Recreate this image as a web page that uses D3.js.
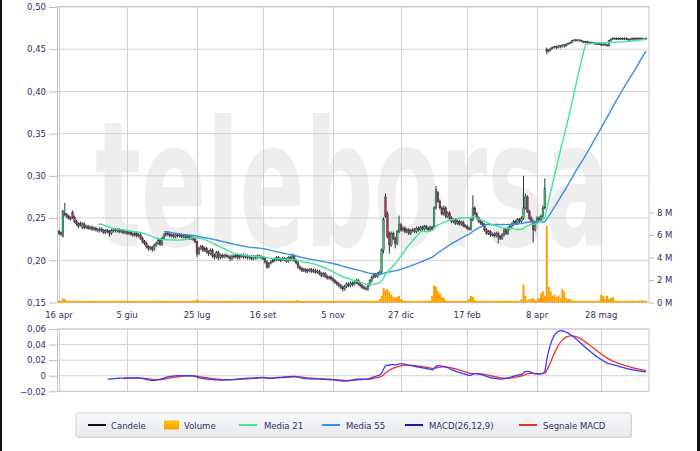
<!DOCTYPE html>
<html><head><meta charset="utf-8">
<script src="https://cdn.jsdelivr.net/npm/d3@7"></script>
<style>html,body{margin:0;padding:0;background:#fff;} svg{display:block;}</style>
</head><body><svg id="c" width="700" height="451"></svg>
<script>
// Daily prices in thousandths of euro (0.232 -> 232)
const openMil = [
234,233,228,256,254,252,250,257,251,246, 243,244,239,243,239,240,238,239,237,238,
236,235,237,235,233,235,234,232,235,236, 235,236,234,235,233,234,232,233,231,230,
232,229,230,226,222,220,216,214,215,213, 218,220,224,219,226,230,232,231,229,230,
228,230,229,230,228,229,227,228,226,227, 225,222,208,214,216,212,214,210,208,212,
206,204,209,203,206,204,206,205,204,202, 205,204,206,203,205,206,204,205,203,204,
202,204,203,205,204,203,202,198,192,196, 198,200,201,203,201,200,202,201,199,203,
201,205,200,197,192,190,188,189,187,188, 189,187,188,186,187,184,182,184,181,179,
180,178,176,174,172,170,168,166,169,172, 170,173,171,174,176,172,170,168,167,166,
171,176,180,183,181,184,186,212,275,255, 232,218,232,226,220,234,242,236,238,234,
236,232,235,236,234,238,236,239,237,240, 238,236,239,240,262,280,270,262,255,262,
252,256,250,246,248,244,246,243,245,241, 240,238,237,248,262,255,250,246,244,242,
236,232,234,230,231,229,232,228,226,230, 236,232,238,240,243,246,244,248,246,250,
262,275,258,250,246,236,245,250,248,252, 262,450,447,449,451,452,453,452,454,453,
455,454,456,457,458,460,461,460,461,460, 459,458,459,458,457,458,457,456,457,456,
455,456,455,454,460,462,463,462,463,462, 463,462,463,462,461,462,463,462,463,462,
463,462,462];
const highMil = [
236,234,260,268,256,254,252,259,253,248, 245,246,245,245,242,242,241,241,240,240,
238,239,239,237,237,237,236,237,238,238, 238,238,237,237,236,236,235,235,233,234,
234,232,232,228,224,222,218,217,217,220, 222,226,226,228,232,234,234,233,232,232,
232,232,232,232,231,231,230,230,229,229, 227,223,216,218,218,216,216,212,214,214,
208,211,211,208,208,208,208,207,206,207, 207,208,208,207,208,208,207,207,206,206,
206,206,207,207,206,205,204,200,198,200, 202,203,205,205,203,204,204,203,205,205,
208,207,202,199,194,192,191,191,190,191, 191,190,190,189,189,186,186,186,183,182,
182,180,178,176,174,172,170,171,174,174, 175,175,176,178,178,174,172,170,169,173,
178,182,185,185,186,188,214,251,279,258, 234,234,234,228,236,253,244,240,240,238,
238,237,238,238,240,240,241,241,242,242, 240,241,241,264,288,282,272,264,265,264,
258,258,252,250,250,248,248,247,247,243, 242,240,250,277,264,257,252,248,246,244,
238,236,236,233,233,234,234,230,232,238, 238,240,242,245,248,248,250,250,252,300,
279,277,260,252,248,247,252,252,254,265, 297,452,450,452,453,454,454,455,455,456,
456,457,458,459,461,462,462,462,462,461, 460,460,460,459,459,459,458,458,458,457,
457,457,456,461,463,464,464,464,464,464, 464,464,464,463,463,464,464,464,464,464,
464,463,464];
const lowMil = [
230,229,227,252,250,248,247,249,244,241, 238,240,237,237,237,236,236,235,235,234,
233,233,233,231,231,232,228,230,233,233, 233,232,232,231,231,230,230,229,228,228,
227,227,224,220,218,214,211,212,210,211, 216,218,217,217,224,228,229,227,227,226,
226,227,227,226,226,225,225,224,224,223, 220,204,206,212,210,210,208,205,206,203,
201,202,200,201,202,202,203,202,199,200, 202,202,201,201,203,202,202,201,201,200,
200,201,201,202,201,200,196,190,191,195, 197,198,199,199,198,199,199,197,197,199,
199,198,195,190,188,186,186,185,185,186, 185,185,184,184,182,180,180,179,177,177,
176,174,172,170,168,166,163,164,167,168, 168,169,170,172,170,168,166,165,164,164,
169,174,178,179,179,182,184,208,250,226, 208,216,224,214,218,232,234,234,232,232,
230,230,233,232,232,234,234,235,235,236, 234,234,235,238,260,268,260,253,253,250,
250,248,244,244,242,242,241,241,239,238, 236,235,235,246,253,248,244,242,240,234,
230,230,228,228,227,227,220,224,224,228, 230,230,236,238,241,242,242,244,244,248,
260,256,248,244,221,234,243,246,246,250, 260,444,446,448,450,451,450,451,451,452,
452,453,455,456,457,459,459,459,459,458, 457,457,457,456,456,456,455,455,455,454,
454,454,453,453,459,461,461,461,461,461, 461,461,461,460,460,461,461,461,461,461,
461,461,461];
const closeMil = [
232,231,258,254,252,250,249,251,246,243, 240,242,243,239,240,238,239,237,238,236,
235,237,235,233,235,234,232,235,236,235, 236,234,235,233,234,232,233,231,230,232,
229,230,226,222,220,216,214,215,213,218, 220,224,219,226,230,232,231,229,230,228,
230,229,230,228,229,227,228,226,227,225, 222,208,214,216,212,214,210,208,212,206,
204,209,203,206,204,206,205,204,202,205, 204,206,203,205,206,204,205,203,204,202,
204,203,205,204,203,202,198,192,196,198, 200,201,203,201,200,202,201,199,203,201,
205,200,197,192,190,188,189,187,188,189, 187,188,186,187,184,182,184,181,179,180,
178,176,174,172,170,168,166,169,172,170, 173,171,174,176,172,170,168,167,166,171,
176,180,183,181,184,186,212,248,252,228, 218,232,226,220,234,242,236,238,234,236,
232,235,236,234,238,236,239,237,240,238, 236,239,237,262,284,270,262,255,262,252,
256,250,246,248,244,246,243,245,241,240, 238,237,248,262,255,250,246,244,242,236,
232,234,230,231,229,232,228,226,230,236, 232,238,240,243,246,244,248,246,250,262,
275,258,250,246,236,245,250,248,252,262, 285,447,449,451,452,453,452,454,453,455,
454,456,457,458,460,461,460,461,460,459, 458,459,458,457,458,457,456,457,456,455,
456,455,454,460,462,463,462,463,462,463, 462,463,462,461,462,463,462,463,462,463,
462,462,463];
// Daily volume, millions of shares
const volumeM = [
.15,.15,.35,.30,.18,.15,.15,.15,.15,.15, .15,.15,.15,.15,.15,.15,.15,.15,.15,.15,
.15,.15,.15,.15,.15,.15,.15,.15,.15,.15, .15,.15,.15,.15,.15,.15,.15,.15,.15,.15,
.15,.15,.15,.15,.15,.15,.15,.15,.15,.15, .15,.15,.15,.15,.15,.15,.15,.15,.15,.15,
.15,.15,.15,.15,.15,.15,.15,.15,.15,.15, .18,.25,.18,.15,.15,.15,.15,.15,.15,.15,
.15,.15,.15,.15,.15,.15,.15,.15,.15,.15, .15,.15,.15,.15,.15,.15,.15,.15,.15,.15,
.15,.15,.15,.15,.15,.15,.15,.15,.15,.15, .15,.15,.15,.15,.15,.15,.15,.15,.15,.15,
.15,.15,.20,.18,.15,.15,.15,.15,.15,.15, .15,.15,.15,.15,.15,.15,.15,.15,.15,.15,
.15,.15,.15,.15,.15,.15,.15,.15,.15,.15, .15,.15,.15,.15,.15,.15,.15,.15,.15,.15,
.15,.15,.15,.18,.15,.30,.60,1.3,1.1,1.2, .90,.70,.50,.40,.50,.60,.30,.20,.15,.15,
.15,.15,.15,.15,.15,.15,.15,.15,.15,.15, .15,.15,.60,1.5,1.4,1.0,.80,.50,.40,.20,
.15,.15,.15,.15,.15,.15,.15,.15,.15,.15, .15,.30,.60,.50,.20,.15,.15,.15,.15,.15,
.15,.15,.15,.15,.15,.15,.15,.15,.15,.15, .15,.15,.15,.15,.15,.15,.15,.15,.30,1.6,
.60,.20,.30,.30,.40,.20,.20,.40,.80,1.0, .60,6.8,1.4,1.0,.60,.70,.50,.60,.40,1.2,
1.0,.40,.30,.30,.20,.15,.15,.15,.15,.15, .15,.15,.15,.15,.15,.15,.15,.15,.15,.70,
.60,.30,.60,.30,.40,.50,.20,.15,.15,.15, .15,.15,.15,.15,.15,.20,.15,.15,.15,.15,
.20,.15,.15];
const dateLabels = ["16 apr","5 giu","25 lug","16 set","5 nov","27 dic","17 feb","8 apr","28 mag"];
const dateTickIdx = [0,35,71,105,141,176,210,246,279];
const priceTicks = [0.15,0.20,0.25,0.30,0.35,0.40,0.45,0.50];
const volumeTicks = [0,2,4,6,8];
const macdTicks = [-0.02,0,0.02,0.04,0.06];
const legendItems = ["Candele","Volume","Media 21","Media 55","MACD(26,12,9)","Segnale MACD"];

const N = closeMil.length;
const data = d3.range(N).map(i => ({
  i, o: openMil[i]/1000, h: highMil[i]/1000, l: lowMil[i]/1000, c: closeMil[i]/1000, v: volumeM[i]
}));
const closes = data.map(d => d.c);

function sma(arr, n) {
  return arr.map((_, i) => i < n-1 ? null : d3.mean(arr.slice(i-n+1, i+1)));
}
function ema(arr, n, start) {
  const out = arr.map(() => null);
  const k = 2/(n+1);
  let prev = d3.mean(arr.slice(start, start+n));
  out[start+n-1] = prev;
  for (let i = start+n; i < arr.length; i++) { prev = arr[i]*k + prev*(1-k); out[i] = prev; }
  return out;
}
const ma21 = sma(closes, 21), ma55 = sma(closes, 55);
const e12 = ema(closes, 12, 0), e26 = ema(closes, 26, 0);
const macd = closes.map((_, i) => (e26[i] == null) ? null : e12[i] - e26[i]);
const macdStart = 25;
const sigRaw = ema(macd.slice(macdStart), 9, 0);
const signal = closes.map((_, i) => i < macdStart ? null : sigRaw[i - macdStart]);

const svg = d3.select("#c");
const defs = svg.append("defs");
const FONT = "DejaVu Sans, Verdana, sans-serif";
const TXT = "#2f2f66";
const GRID = "#d2d2d2";
const L = 58, R = 649;

const x = d3.scaleLinear().domain([0, 303.6]).range([59, 649]);
const y = d3.scaleLinear().domain([0.15, 0.50]).range([302.5, 7]);
const yv = d3.scaleLinear().domain([0, 8]).range([302.5, 212.5]);
const ym = d3.scaleLinear().domain([-0.02, 0.06]).range([391.3, 329]);
const fmt = v => d3.format(".2f")(v).replace(".", ",");

// black frame strips at edges
svg.append("rect").attr("x",0).attr("y",0).attr("width",2).attr("height",451).attr("fill","#111");
svg.append("rect").attr("x",697).attr("y",0).attr("width",3).attr("height",451).attr("fill","#111");

// watermark (compressed horizontally to span the plot)
const wm = svg.append("g");
const wt = wm.append("text").attr("x", 0).attr("y", 0)
  .attr("font-family","DejaVu Sans, sans-serif").attr("font-weight","bold")
  .attr("font-size", 175).attr("fill","#eeeeee")
  .text("teleborsa");
const wlen = wt.node().getComputedTextLength();
wm.attr("transform", `translate(95,246) scale(${515 / wlen},1)`);

// ---- main panel grid
const g = svg.append("g");
g.selectAll(".hg").data(priceTicks).join("line")
  .attr("x1", L).attr("x2", R).attr("y1", d => y(d)).attr("y2", d => y(d))
  .attr("stroke", GRID).attr("stroke-width", 1);
g.selectAll(".vg").data(dateTickIdx).join("line")
  .attr("x1", d => Math.round(x(d))+0.5).attr("x2", d => Math.round(x(d))+0.5)
  .attr("y1", 7).attr("y2", 302.5).attr("stroke", GRID);
g.append("rect").attr("x", L-0.5).attr("y", 6.5).attr("width", R-L+0.5).attr("height", 296)
  .attr("fill","none").attr("stroke","#c8c8c8");

// left axis
const ax = d3.axisLeft(y).tickValues(priceTicks).tickFormat(fmt).tickSize(8).tickPadding(3);
const axg = svg.append("g").attr("transform", `translate(${L-1},0)`).call(ax);
axg.select(".domain").remove();
axg.selectAll("line").attr("stroke","#bbb");
axg.selectAll("text").attr("font-family", FONT).attr("font-size", 8.5).attr("fill", TXT);

// right volume axis
const avx = d3.axisRight(yv).tickValues(volumeTicks).tickFormat(d => d + " M").tickSize(5).tickPadding(3);
const avg = svg.append("g").attr("transform", `translate(${R},0)`).call(avx);
avg.select(".domain").remove();
avg.selectAll("line").attr("stroke","#bbb");
avg.selectAll("text").attr("font-family", FONT).attr("font-size", 8.5).attr("fill", TXT);

// date labels
svg.append("g").selectAll("text").data(dateTickIdx).join("text")
  .attr("x", d => x(d)).attr("y", 318).attr("text-anchor","middle")
  .attr("font-family", FONT).attr("font-size", 8.5).attr("fill", TXT)
  .text((d, k) => dateLabels[k]);

// volume bars
svg.append("g").selectAll("rect").data(data).join("rect")
  .attr("x", d => x(d.i) - 1).attr("width", 2)
  .attr("y", d => yv(d.v)).attr("height", d => yv(0) - yv(d.v))
  .attr("fill", "#ffa000");

// candles
const cg = svg.append("g");
cg.selectAll("line").data(data).join("line")
  .attr("x1", d => x(d.i)).attr("x2", d => x(d.i))
  .attr("y1", d => y(d.h)).attr("y2", d => y(d.l))
  .attr("stroke", "#2b2f44").attr("stroke-width", 1);
cg.selectAll("rect").data(data).join("rect")
  .attr("x", d => x(d.i) - 0.9).attr("width", 1.8)
  .attr("y", d => y(Math.max(d.o, d.c)))
  .attr("height", d => Math.max(0.8, Math.abs(y(d.o) - y(d.c))))
  .attr("fill", d => d.c > d.o ? "#3cc06a" : (d.c < d.o ? "#a8344e" : "#2b2f44"))
  .attr("stroke", "#2b2f44").attr("stroke-width", 0.4);

// moving averages
const line = d3.line().defined(d => d[1] != null).x(d => x(d[0])).y(d => y(d[1]));
svg.append("path").datum(ma55.map((v, i) => [i, v])).attr("d", line)
  .attr("fill","none").attr("stroke","#3a8ee6").attr("stroke-width",1.4);
svg.append("path").datum(ma21.map((v, i) => [i, v])).attr("d", line)
  .attr("fill","none").attr("stroke","#3ee695").attr("stroke-width",1.4);

// ---- MACD panel
const mg = svg.append("g");
mg.selectAll(".hg").data(macdTicks).join("line")
  .attr("x1", L).attr("x2", R).attr("y1", d => ym(d)).attr("y2", d => ym(d))
  .attr("stroke", GRID);
mg.selectAll(".vg").data(dateTickIdx).join("line")
  .attr("x1", d => Math.round(x(d))+0.5).attr("x2", d => Math.round(x(d))+0.5)
  .attr("y1", ym(0.06)).attr("y2", ym(-0.02)).attr("stroke", GRID);
mg.append("rect").attr("x", L-0.5).attr("y", ym(0.06)).attr("width", R-L+0.5).attr("height", ym(-0.02)-ym(0.06))
  .attr("fill","none").attr("stroke","#c8c8c8");
const amx = d3.axisLeft(ym).tickValues(macdTicks)
  .tickFormat(d => d === 0 ? "0" : fmt(d)).tickSize(8).tickPadding(3);
const amg = svg.append("g").attr("transform", `translate(${L-1},0)`).call(amx);
amg.select(".domain").remove();
amg.selectAll("line").attr("stroke","#bbb");
amg.selectAll("text").attr("font-family", FONT).attr("font-size", 8.5).attr("fill", TXT);

const mline = d3.line().defined(d => d[1] != null).x(d => x(d[0])).y(d => ym(d[1])).curve(d3.curveMonotoneX);
svg.append("path").datum(signal.map((v, i) => [i, v])).attr("d", mline)
  .attr("fill","none").attr("stroke","#ee3030").attr("stroke-width",1.3);
svg.append("path").datum(macd.map((v, i) => [i, v])).attr("d", mline)
  .attr("fill","none").attr("stroke","#3a3af2").attr("stroke-width",1.3);

// ---- legend
const lg = svg.append("g");
const lgrad = defs.append("linearGradient").attr("id","lgb").attr("x1",0).attr("x2",0).attr("y1",0).attr("y2",1);
lgrad.append("stop").attr("offset","0%").attr("stop-color","#f8f9fb");
lgrad.append("stop").attr("offset","100%").attr("stop-color","#e6e8ec");
lg.append("rect").attr("x", 77).attr("y", 414).attr("width", 555).attr("height", 24)
  .attr("fill","#d4d7db").attr("rx",2);
lg.append("rect").attr("x", 76).attr("y", 413).attr("width", 555).attr("height", 24)
  .attr("fill","url(#lgb)").attr("stroke","#cfd2d6").attr("rx",2);
const legendColors = ["#111111", null, "#3ee695", "#3a8ee6", "#1a1aa0", "#dd3333"];
const legendLineX = [88, 164, 239, 322, 405, 519];
const legendTextX = [111, 184, 264, 346, 429, 543];
const sg = defs.append("linearGradient").attr("id","sw").attr("x1",0).attr("x2",0).attr("y1",0).attr("y2",1);
sg.append("stop").attr("offset","0%").attr("stop-color","#ffc400");
sg.append("stop").attr("offset","100%").attr("stop-color","#ff9c00");
legendItems.forEach((t, k) => {
  if (k === 1) {
    lg.append("rect").attr("x", legendLineX[k]).attr("y", 420.5).attr("width", 15).attr("height", 9)
      .attr("fill","url(#sw)");
  } else {
    lg.append("line").attr("x1", legendLineX[k]).attr("x2", legendLineX[k] + 18)
      .attr("y1", 425).attr("y2", 425).attr("stroke", legendColors[k]).attr("stroke-width", 2);
  }
  lg.append("text").attr("x", legendTextX[k]).attr("y", 428.5)
    .attr("font-family", FONT).attr("font-size", 8.5).attr("fill", TXT).text(t);
});
</script></body></html>
